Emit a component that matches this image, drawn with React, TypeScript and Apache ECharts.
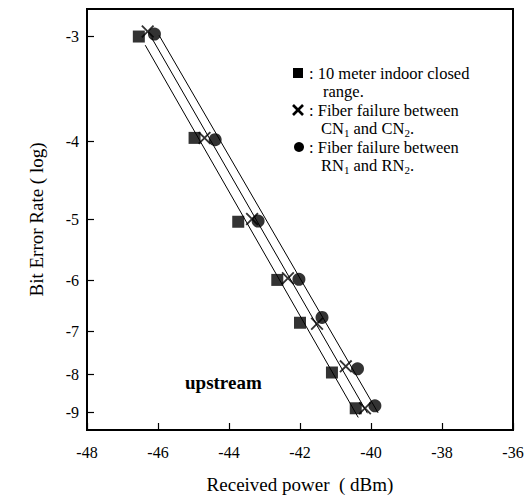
import React, { useEffect, useRef } from "react";
import * as echarts from "echarts";

// ---------- data ----------
const xTicks = [-48, -46, -44, -42, -40, -38, -36];
const berTicks = [-3, -4, -5, -6, -7, -8, -9];

// 10 meter indoor closed range (squares)
const sqPower = [-46.54, -44.97, -43.74, -42.64, -42.0, -41.1, -40.43];
const sqBer = [-3.0, -3.96, -5.04, -5.99, -6.82, -7.95, -8.89];
// Fiber failure between CN1 and CN2 (crosses)
const crPower = [-46.29, -44.69, -43.35, -42.34, -41.52, -40.71, -40.17];
const crBer = [-2.96, -3.96, -5.0, -5.96, -6.84, -7.8, -8.89];
// Fiber failure between RN1 and RN2 (circles)
const ciPower = [-46.1, -44.39, -43.18, -42.03, -41.38, -40.38, -39.89];
const ciBer = [-2.98, -3.98, -5.03, -5.98, -6.71, -7.86, -8.82];

// fitted lines (end points)
const fitSqPower = [-46.36, -40.36];
const fitSqBer = [-3.07, -9.15];
const fitCrPower = [-46.18, -40.1];
const fitCrBer = [-3.01, -9.03];
const fitCiPower = [-45.97, -39.8];
const fitCiBer = [-2.99, -9.02];

const berAxisTop = -2.79;
const berAxisBottom = -9.52;

// ---------- BER scale (Q-factor in dB) ----------
function erfc(x: number): number {
  const z = Math.abs(x);
  const t = 1 / (1 + 0.5 * z);
  const r =
    t *
    Math.exp(
      -z * z -
        1.26551223 +
        t *
          (1.00002368 +
            t *
              (0.37409196 +
                t *
                  (0.09678418 +
                    t *
                      (-0.18628806 +
                        t *
                          (0.27886807 +
                            t *
                              (-1.13520398 +
                                t * (1.48851587 + t * (-0.82215223 + t * 0.17087277))))))))
    );
  return x >= 0 ? r : 2 - r;
}
function qFromBerExp(e: number): number {
  const ber = Math.pow(10, e);
  let lo = 0;
  let hi = 12;
  for (let i = 0; i < 80; i++) {
    const mid = (lo + hi) / 2;
    const p = 0.5 * erfc(mid / Math.SQRT2);
    if (p > ber) lo = mid;
    else hi = mid;
  }
  return (lo + hi) / 2;
}
const toAxis = (e: number) => -20 * Math.log10(qFromBerExp(e));

const FONT = '"Liberation Serif", "Times New Roman", serif';
const X_PATH =
  "path://M2,0 L10,8 L18,0 L20,2 L12,10 L20,18 L18,20 L10,12 L2,20 L0,18 L8,10 L0,2 Z";

const pts = (xs: number[], ys: number[]) => xs.map((x, i) => [x, toAxis(ys[i])]);

export default function App() {
  const ref = useRef<HTMLDivElement>(null);
  useEffect(() => {
    if (!ref.current) return;
    const chart = echarts.init(ref.current, undefined, { renderer: "svg" });
    const tickVals = berTicks.map(toAxis);
    const labelFor = (v: number) => {
      let best = berTicks[0];
      let bd = Infinity;
      berTicks.forEach((t, i) => {
        const d = Math.abs(tickVals[i] - v);
        if (d < bd) {
          bd = d;
          best = t;
        }
      });
      return String(best);
    };
    const legendText = {
      fontFamily: FONT,
      fontSize: 16.5,
      fill: "#000",
    };
    const rich = {
      a: { fontFamily: FONT, fontSize: 16.5, lineHeight: 17, color: "#000" },
      s: { fontFamily: FONT, fontSize: 11, lineHeight: 12, padding: [9, 0, 0, 0], color: "#000" },
    };
    const lineStyle = { color: "#000", width: 1 };
    chart.setOption({
      animation: false,
      backgroundColor: "#fff",
      grid: {
        left: 87,
        right: 17,
        top: 9,
        bottom: 70,
        show: true,
        borderColor: "#000",
        borderWidth: 2,
        backgroundColor: "transparent",
      },
      xAxis: {
        type: "value",
        min: xTicks[0],
        max: xTicks[xTicks.length - 1],
        interval: 2,
        name: "Received power  ( dBm)",
        nameLocation: "middle",
        nameGap: 45,
        nameTextStyle: { fontFamily: FONT, fontSize: 19, color: "#000" },
        axisLine: { show: true, lineStyle: { color: "#000", width: 2 } },
        axisTick: { show: true, inside: true, length: 7, lineStyle: { color: "#000", width: 1.2 } },
        axisLabel: { fontFamily: FONT, fontSize: 16, color: "#000", margin: 14, showMinLabel: true, showMaxLabel: true },
        splitLine: { show: false },
      },
      yAxis: {
        type: "value",
        min: toAxis(berAxisBottom),
        max: toAxis(berAxisTop),
        name: "Bit Error Rate ( log)",
        nameLocation: "middle",
        nameRotate: 90,
        nameGap: 41,
        nameTextStyle: { fontFamily: FONT, fontSize: 19, color: "#000" },
        axisLine: { show: true, lineStyle: { color: "#000", width: 2 } },
        axisTick: {
          show: true,
          inside: true,
          length: 7,
          customValues: tickVals,
          lineStyle: { color: "#000", width: 1.2 },
        },
        axisLabel: {
          fontFamily: FONT,
          fontSize: 16,
          color: "#000",
          margin: 8,
          customValues: tickVals,
          formatter: (v: number) => labelFor(v),
        },
        splitLine: { show: false },
      },
      series: [
        { type: "line", data: pts(fitSqPower, fitSqBer), symbol: "none", lineStyle, z: 1 },
        { type: "line", data: pts(fitCrPower, fitCrBer), symbol: "none", lineStyle, z: 1 },
        { type: "line", data: pts(fitCiPower, fitCiBer), symbol: "none", lineStyle, z: 1 },
        {
          type: "scatter",
          data: pts(sqPower, sqBer),
          symbol: "rect",
          symbolSize: 12,
          itemStyle: { color: "#000" },
          z: 3,
        },
        {
          type: "scatter",
          data: pts(crPower, crBer),
          symbol: X_PATH,
          symbolSize: 13,
          itemStyle: { color: "#000" },
          z: 4,
        },
        {
          type: "scatter",
          data: pts(ciPower, ciBer),
          symbol: "circle",
          symbolSize: 13,
          itemStyle: { color: "#000" },
          z: 5,
        },
      ],
      graphic: [
        { type: "rect", shape: { x: 293, y: 68, width: 10, height: 10 }, style: { fill: "#000" } },
        { type: "text", x: 309, y: 73, style: { ...legendText, text: ": 10 meter indoor closed", verticalAlign: "middle" } },
        { type: "text", x: 323, y: 91, style: { ...legendText, text: "range.", verticalAlign: "middle" } },
        {
          type: "group",
          x: 293,
          y: 105,
          children: [
            { type: "line", shape: { x1: 0, y1: 0, x2: 10, y2: 10 }, style: { stroke: "#000", lineWidth: 2.6 } },
            { type: "line", shape: { x1: 10, y1: 0, x2: 0, y2: 10 }, style: { stroke: "#000", lineWidth: 2.6 } },
          ],
        },
        { type: "text", x: 309, y: 110, style: { ...legendText, text: ": Fiber failure between", verticalAlign: "middle" } },
        {
          type: "text",
          x: 321,
          y: 128,
          style: { text: "{a|CN}{s|1}{a| and CN}{s|2}{a|.}", rich, verticalAlign: "middle" },
        },
        { type: "circle", shape: { cx: 299, cy: 147, r: 5 }, style: { fill: "#000" } },
        { type: "text", x: 309, y: 147, style: { ...legendText, text: ": Fiber failure between", verticalAlign: "middle" } },
        {
          type: "text",
          x: 321,
          y: 165,
          style: { text: "{a|RN}{s|1}{a| and RN}{s|2}{a|.}", rich, verticalAlign: "middle" },
        },
        {
          type: "text",
          x: 185,
          y: 382,
          style: {
            text: "upstream",
            fontFamily: FONT,
            fontSize: 19,
            fontWeight: "bold",
            fill: "#000",
            verticalAlign: "middle",
          },
        },
      ],
    });
    return () => chart.dispose();
  }, []);
  return (
    <div
      ref={ref}
      style={{ position: "absolute", left: 0, top: 0, width: 530, height: 500, background: "#fff" }}
    />
  );
}
